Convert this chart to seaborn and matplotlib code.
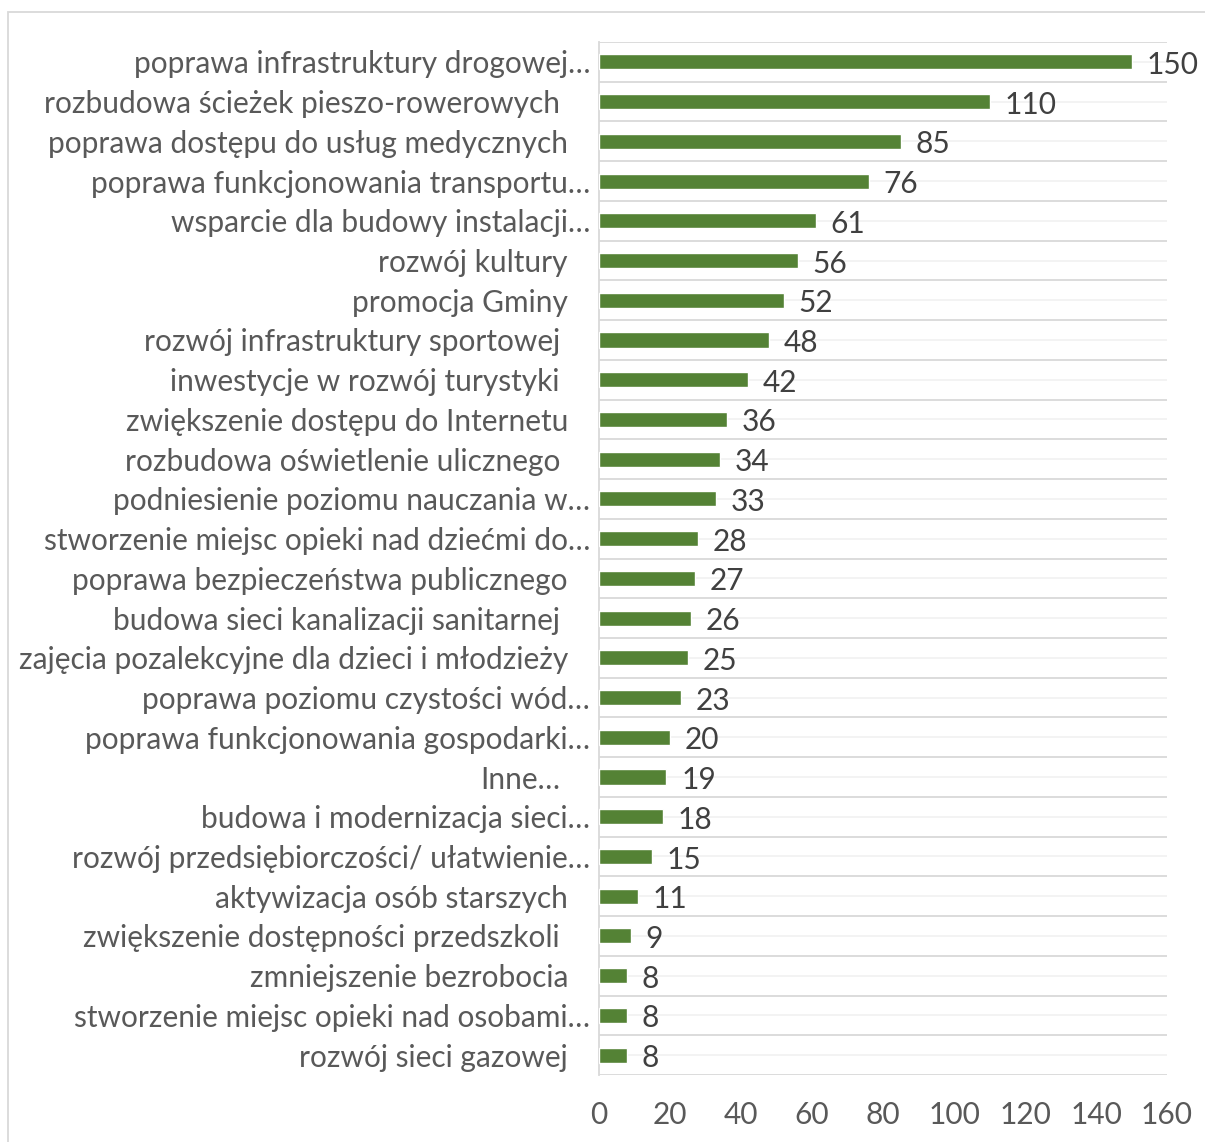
import matplotlib
matplotlib.use("Agg")
import matplotlib.pyplot as plt
import matplotlib.transforms as mtransforms
from matplotlib.patches import Rectangle
from matplotlib.ticker import FixedLocator
import numpy as np
import pandas as pd
import seaborn as sns

categories = [
    "poprawa infrastruktury drogowej…",
    "rozbudowa ścieżek pieszo-rowerowych ",
    "poprawa dostępu do usług medycznych",
    "poprawa funkcjonowania transportu…",
    "wsparcie dla budowy instalacji…",
    "rozwój kultury",
    "promocja Gminy",
    "rozwój infrastruktury sportowej ",
    "inwestycje w rozwój turystyki ",
    "zwiększenie dostępu do Internetu",
    "rozbudowa oświetlenie ulicznego ",
    "podniesienie poziomu nauczania w…",
    "stworzenie miejsc opieki nad dziećmi do…",
    "poprawa bezpieczeństwa publicznego",
    "budowa sieci kanalizacji sanitarnej ",
    "zajęcia pozalekcyjne dla dzieci i młodzieży",
    "poprawa poziomu czystości wód…",
    "poprawa funkcjonowania gospodarki…",
    "Inne… ",
    "budowa i modernizacja sieci…",
    "rozwój przedsiębiorczości/ ułatwienie…",
    "aktywizacja osób starszych",
    "zwiększenie dostępności przedszkoli ",
    "zmniejszenie bezrobocia",
    "stworzenie miejsc opieki nad osobami…",
    "rozwój sieci gazowej",
]
values = [150, 110, 85, 76, 61, 56, 52, 48, 42, 36, 34, 33, 28, 27, 26, 25,
          23, 20, 19, 18, 15, 11, 9, 8, 8, 8]
x_ticks = [0, 20, 40, 60, 80, 100, 120, 140, 160]

W, H = 1205, 1142
DPI = 100
FONT = "Lato"
FS = 21.5

sns.set_theme(style="white")
plt.rcParams["font.family"] = [FONT, "DejaVu Sans"]

fig = plt.figure(figsize=(W / DPI, H / DPI), dpi=DPI)
ax = fig.add_axes([599 / W, 1 - 1075 / H, (1167 - 599) / W, (1075 - 42) / H])

df = pd.DataFrame({"cat": categories, "val": values})
sns.barplot(data=df, x="val", y="cat", orient="h", color="#548235",
            width=0.38, saturation=1, ax=ax, zorder=3)

ax.set_xlim(0, 160)
ax.set_ylim(len(categories) - 0.5, -0.5)
ax.xaxis.set_major_locator(FixedLocator(x_ticks))
ax.set_xticklabels([str(t) for t in x_ticks])
ax.set_xlabel("")
ax.set_ylabel("")

# horizontal gridlines: light at bar centres, darker at category boundaries
ax.yaxis.set_minor_locator(FixedLocator(np.arange(-0.5, len(categories))))
ax.grid(axis="y", which="major", color="#f2f2f2", linewidth=1.3, zorder=0)
ax.grid(axis="y", which="minor", color="#d9d9d9", linewidth=1.3, zorder=0)
ax.grid(axis="x", visible=False)
ax.set_axisbelow(True)

for s in ["top", "right", "bottom"]:
    ax.spines[s].set_visible(False)
ax.spines["left"].set_color("#d9d9d9")
ax.spines["left"].set_linewidth(1.3)

ax.tick_params(axis="x", length=0, pad=19, labelsize=FS, labelcolor="#595959")
ax.tick_params(axis="y", which="both", length=0)
ax.set_yticklabels([])

# category labels
base = mtransforms.blended_transform_factory(ax.transAxes, ax.transData)
for i, c in enumerate(categories):
    if c.endswith("…"):
        dx = 22
    elif c.endswith(" "):
        dx = -8
    else:
        dx = 0
    tr = base + mtransforms.ScaledTranslation((dx - 31) / DPI, -2.5 / DPI,
                                              fig.dpi_scale_trans)
    ax.text(0, i, c.rstrip(), transform=tr, ha="right", va="center",
            fontsize=FS, color="#595959")

# value labels
for cont in ax.containers:
    anns = ax.bar_label(cont, labels=[str(v) for v in values], padding=10.5,
                        fontsize=FS, color="#404040")
    for a in anns:
        a.xyann = (10.5, -2.2)

# outer chart border
fig.patches.append(Rectangle((8 / W, -0.01), 1.05, 1 - 12 / H + 0.01,
                             transform=fig.transFigure, fill=False,
                             edgecolor="#d9d9d9", linewidth=1.3))

fig.savefig("out.png", dpi=DPI, facecolor="white")
